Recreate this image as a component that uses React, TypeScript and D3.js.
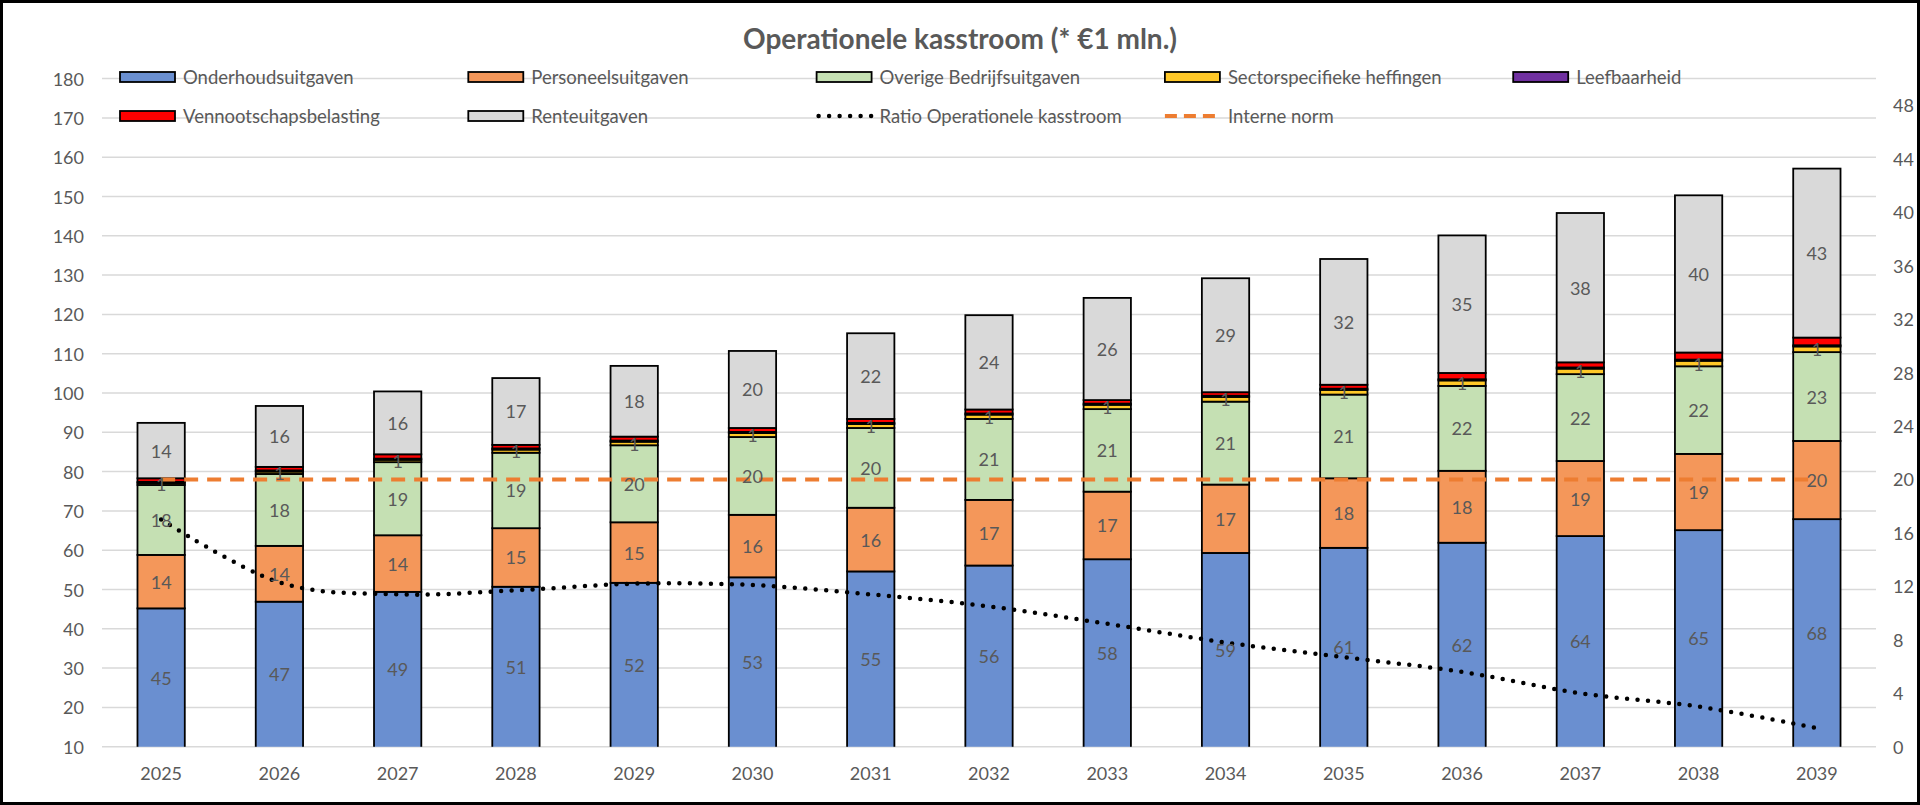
import React from "react";
import * as d3 from "d3";

// categorieën en reekswaarden (* €1 mln.)
const years = ["2025", "2026", "2027", "2028", "2029", "2030", "2031", "2032", "2033", "2034", "2035", "2036", "2037", "2038", "2039"];
const onderhoud = [45.2, 46.9, 49.4, 50.7, 51.7, 53.1, 54.6, 56.1, 57.7, 59.3, 60.6, 61.9, 63.6, 65.1, 67.9];
const personeel = [13.6, 14.2, 14.4, 14.9, 15.4, 15.9, 16.2, 16.7, 17.2, 17.4, 17.7, 18.3, 19.1, 19.4, 19.9];
const overige = [17.8, 18.3, 18.6, 19.2, 19.6, 19.8, 20.3, 20.6, 21.0, 21.1, 21.3, 21.6, 22.1, 22.3, 22.6];
const heffingen = [0.5, 0.6, 0.6, 0.8, 0.9, 1.0, 1.0, 1.1, 1.1, 1.2, 1.2, 1.4, 1.4, 1.4, 1.45];
const leefbaarheid = [0.3, 0.3, 0.3, 0.3, 0.3, 0.3, 0.3, 0.3, 0.3, 0.3, 0.3, 0.3, 0.3, 0.3, 0.3];
const vpb = [0.9, 0.9, 1.1, 0.9, 1.0, 1.0, 1.0, 1.0, 0.9, 0.9, 1.0, 1.6, 1.3, 1.8, 1.95];
const rente = [14.1, 15.5, 16.0, 17.0, 18.0, 19.6, 21.8, 24.0, 26.0, 29.0, 32.0, 35.0, 38.0, 40.0, 43.0];
// rechter as
const ratio = [17.0, 12.3, 11.4, 11.7, 12.2, 12.1, 11.4, 10.5, 9.2, 7.8, 6.7, 5.6, 4.0, 3.0, 1.4];
const interneNorm = [20, 20, 20, 20, 20, 20, 20, 20, 20, 20, 20, 20, 20, 20, 20];

const leftTicks = [10, 20, 30, 40, 50, 60, 70, 80, 90, 100, 110, 120, 130, 140, 150, 160, 170, 180];
const rightTicks = [0, 4, 8, 12, 16, 20, 24, 28, 32, 36, 40, 44, 48];

const series = [
  { key: "onderhoud", label: "Onderhoudsuitgaven", color: "#6a8fd0", values: onderhoud, showLabel: true },
  { key: "personeel", label: "Personeelsuitgaven", color: "#f4975a", values: personeel, showLabel: true },
  { key: "overige", label: "Overige Bedrijfsuitgaven", color: "#c5e0b3", values: overige, showLabel: true },
  { key: "heffingen", label: "Sectorspecifieke heffingen", color: "#ffc828", values: heffingen, showLabel: true },
  { key: "leefbaarheid", label: "Leefbaarheid", color: "#7030a0", values: leefbaarheid, showLabel: false },
  { key: "vpb", label: "Vennootschapsbelasting", color: "#ff0000", values: vpb, showLabel: false },
  { key: "rente", label: "Renteuitgaven", color: "#d9d9d9", values: rente, showLabel: true },
];

const FONT = "Lato, 'Noto Sans', sans-serif";
const TEXT = "#595959";

export default function App() {
  const width = 1920;
  const height = 805;
  const left = 102;
  const right = 1876;
  const top = 78.6;
  const bottom = 746.7;

  const x = d3.scaleBand<string>(years, [left, right]).paddingInner(0.6).paddingOuter(0.3);
  const y = d3.scaleLinear([10, 180], [bottom, top]);
  const y2 = d3.scaleLinear([0, 50], [bottom, top]);
  const cx = (yr: string) => (x(yr) ?? 0) + x.bandwidth() / 2;

  const rows = years.map((yr, i) => {
    const r: Record<string, number | string> = { year: yr };
    series.forEach((s) => (r[s.key] = s.values[i]));
    return r;
  });
  const stacked = d3.stack<any>().keys(series.map((s) => s.key))(rows);

  const ratioLine = d3
    .line<number>()
    .x((_, i) => cx(years[i]))
    .y((d) => y2(d))
    .curve(d3.curveCatmullRom.alpha(0));
  const normLine = d3
    .line<number>()
    .x((_, i) => cx(years[i]))
    .y((d) => y2(d));

  const legendRow1 = ["onderhoud", "personeel", "overige", "heffingen", "leefbaarheid"];
  const legendRow2 = ["vpb", "rente", "ratio", "norm"];
  const legendItem = (key: string, col: number, row: number) => {
    const lx = 120 + col * 348.3;
    const ly = row === 0 ? 77 : 116;
    const s = series.find((d) => d.key === key);
    let swatch;
    let label;
    if (s) {
      label = s.label;
      swatch = <rect x={lx} y={ly - 5} width={55} height={10} fill={s.color} stroke="#000" strokeWidth={1.8} />;
    } else if (key === "ratio") {
      label = "Ratio Operationele kasstroom";
      swatch = (
        <line x1={lx + 2} x2={lx + 55} y1={ly} y2={ly} stroke="#000" strokeWidth={4.5} strokeDasharray="0 10.5" strokeLinecap="round" />
      );
    } else {
      label = "Interne norm";
      swatch = <line x1={lx} x2={lx + 57} y1={ly} y2={ly} stroke="#ed7d31" strokeWidth={4} strokeDasharray="12 7" />;
    }
    return (
      <g key={key}>
        {swatch}
        <text x={lx + 63} y={ly} dominantBaseline="central" fontSize={18.5} fill={TEXT} fontFamily={FONT}>
          {label}
        </text>
      </g>
    );
  };

  return (
    <div>
      <style>{`body{margin:0}`}</style>
      <svg width={width} height={height} style={{ display: "block", background: "#fff" }}>
        <defs>
          <clipPath id="plot">
            <rect x={left} y={top - 5} width={right - left} height={bottom - top + 5} />
          </clipPath>
        </defs>

        {/* rasterlijnen */}
        <g stroke="#d9d9d9" strokeWidth={1.5}>
          {leftTicks.map((t) => (
            <line key={t} x1={left} x2={right} y1={y(t)} y2={y(t)} />
          ))}
        </g>

        {/* linker as */}
        <g fontFamily={FONT} fontSize={18} fill={TEXT} textAnchor="end">
          {leftTicks.map((t) => (
            <text key={t} x={84} y={y(t)} dominantBaseline="central">
              {t}
            </text>
          ))}
        </g>
        {/* rechter as */}
        <g fontFamily={FONT} fontSize={18} fill={TEXT} textAnchor="start">
          {rightTicks.map((t) => (
            <text key={t} x={1893} y={y2(t)} dominantBaseline="central">
              {t}
            </text>
          ))}
        </g>
        {/* categorie-as */}
        <g fontFamily={FONT} fontSize={18} fill={TEXT} textAnchor="middle">
          {years.map((yr) => (
            <text key={yr} x={cx(yr)} y={773} dominantBaseline="central">
              {yr}
            </text>
          ))}
        </g>

        {/* gestapelde kolommen */}
        <g clipPath="url(#plot)">
          {stacked.map((layer, li) => (
            <g key={layer.key} fill={series[li].color} stroke="#000" strokeWidth={1.8}>
              {layer.map((d, i) => (
                <rect key={i} x={x(years[i])} y={y(d[1])} width={x.bandwidth()} height={Math.max(0, y(d[0]) - y(d[1]))} />
              ))}
            </g>
          ))}
        </g>

        {/* lijnen */}
        <path d={normLine(interneNorm) ?? ""} fill="none" stroke="#ed7d31" strokeWidth={4} strokeDasharray="14 9" />
        <path
          d={ratioLine(ratio) ?? ""}
          fill="none"
          stroke="#000"
          strokeWidth={4.5}
          strokeDasharray="0 10.5"
          strokeLinecap="round"
        />

        {/* gegevenslabels */}
        <g fontFamily={FONT} fontSize={18} fill={TEXT} textAnchor="middle">
          {stacked.map((layer, li) =>
            series[li].showLabel
              ? layer.map((d, i) => {
                  const v0 = Math.max(d[0], 10);
                  const ly = (y(v0) + y(d[1])) / 2;
                  return (
                    <text key={`${layer.key}-${i}`} x={cx(years[i])} y={ly} dominantBaseline="central">
                      {Math.round(d[1] - d[0])}
                    </text>
                  );
                })
              : null
          )}
        </g>

        {/* titel */}
        <text x={960} y={38} textAnchor="middle" dominantBaseline="central" fontFamily={FONT} fontWeight="bold" fontSize={28} fill={TEXT}>
          Operationele kasstroom (* €1 mln.)
        </text>

        {/* legenda */}
        {legendRow1.map((k, i) => legendItem(k, i, 0))}
        {legendRow2.map((k, i) => legendItem(k, i, 1))}

        {/* kader */}
        <rect x={1.5} y={1.5} width={width - 3} height={height - 3} fill="none" stroke="#000" strokeWidth={3} />
      </svg>
    </div>
  );
}
